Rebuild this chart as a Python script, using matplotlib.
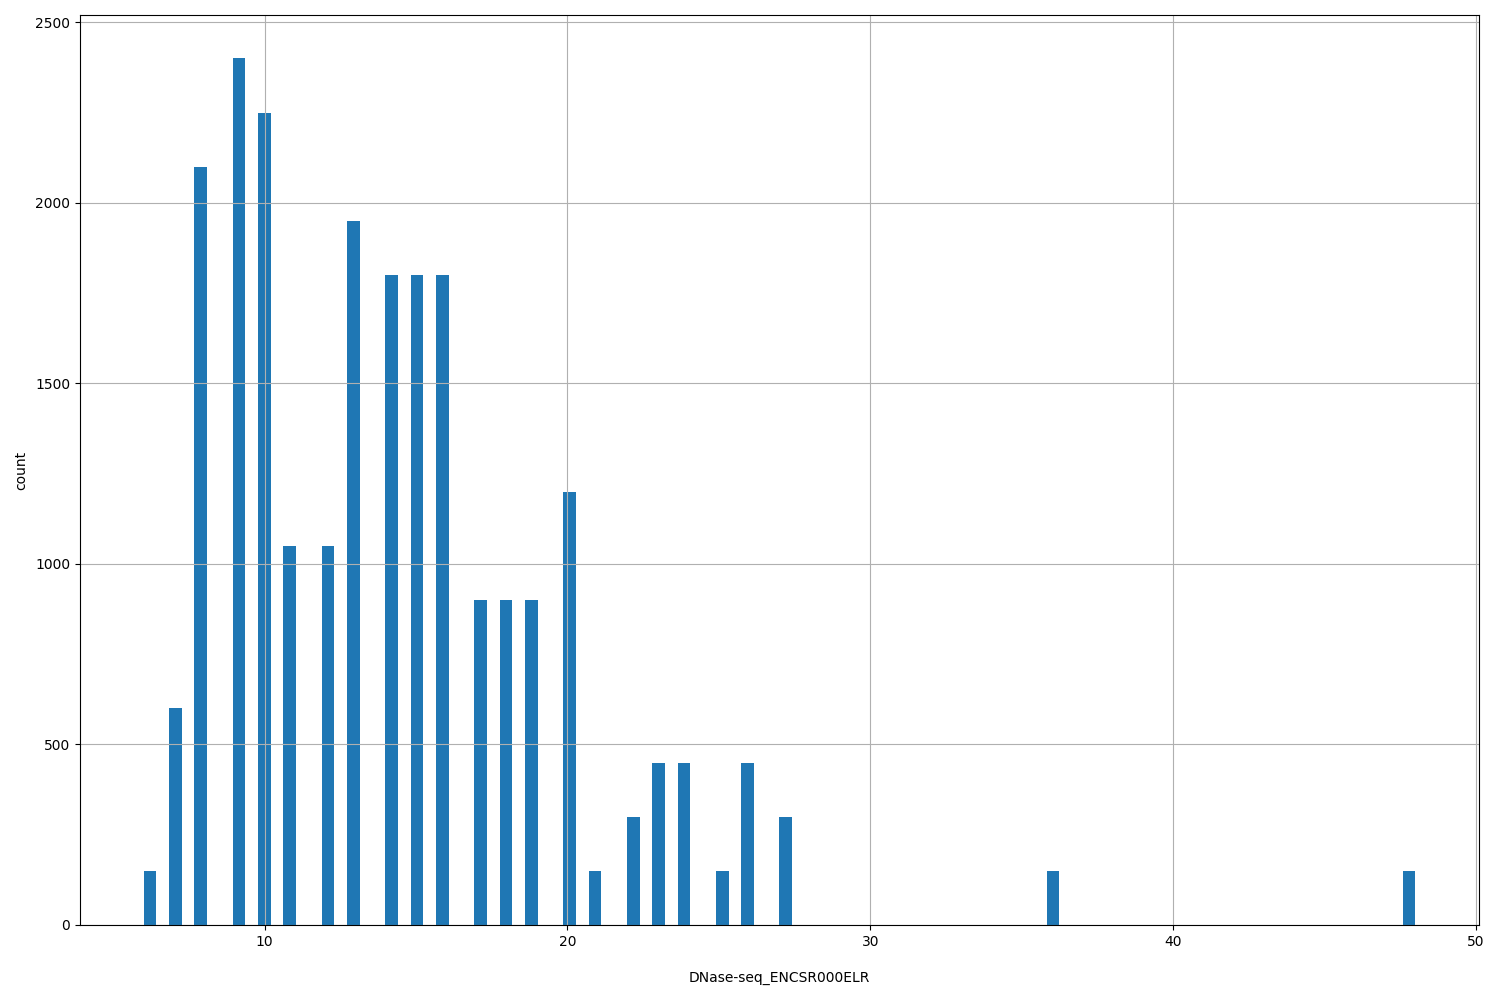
import numpy as np
import matplotlib
matplotlib.use("Agg")
import matplotlib.pyplot as plt

# Distinct values seen in the column and how many rows hold each value
values = [6, 7, 8, 9, 10, 11, 12, 13, 14, 15, 16, 17, 18, 19, 20,
          21, 22, 23, 24, 25, 26, 27, 36, 48]
counts = [150, 600, 2100, 2400, 2250, 1050, 1050, 1950, 1800, 1800, 1800,
          900, 900, 900, 1200, 150, 300, 450, 450, 150, 450, 300, 150, 150]

x_label = "DNase-seq_ENCSR000ELR"
y_label = "count"

fig, ax = plt.subplots(figsize=(15, 10), dpi=100)
ax.hist(values, bins=100, weights=counts, color="#1f77b4")
ax.grid(True)
ax.set_xlabel(x_label, labelpad=16)
ax.set_ylabel(y_label, labelpad=5)
fig.subplots_adjust(left=0.0533, right=0.986, top=0.985, bottom=0.075)
fig.savefig("out.png")
